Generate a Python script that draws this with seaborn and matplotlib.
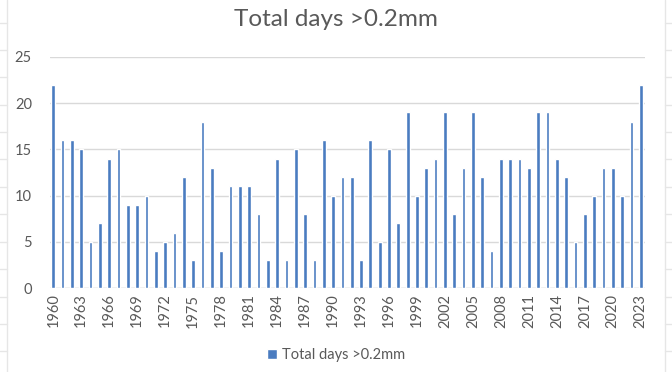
import numpy as np
import pandas as pd
import matplotlib
matplotlib.use('Agg')
import matplotlib.pyplot as plt
from matplotlib.lines import Line2D
import seaborn as sns

# Data
years = list(range(1960, 2024))
total_days = [22, 16, 16, 15, 5, 7, 14, 15, 9, 9,
              10, 4, 5, 6, 12, 3, 18, 13, 4, 11,
              11, 11, 8, 3, 14, 3, 15, 8, 3, 16,
              10, 12, 12, 3, 16, 5, 15, 7, 19, 10,
              13, 14, 19, 8, 13, 19, 12, 4, 14, 14,
              14, 13, 19, 19, 14, 12, 5, 8, 10, 13,
              13, 10, 18, 22]
series_name = 'Total days >0.2mm'

df = pd.DataFrame({'Year': [str(y) for y in years], 'Days': total_days})

sns.set_theme(style='white')
plt.rcParams['font.family'] = ['Lato', 'DejaVu Sans']

text_col = '#595959'
bar_col = '#4A7CC0'

fig = plt.figure(figsize=(6.72, 3.72), dpi=100)
ax = fig.add_axes([50/672, 1 - 288/372, (645 - 50)/672, (288 - 57)/372])

sns.barplot(data=df, x='Year', y='Days', color=bar_col, width=0.4,
            saturation=1, ax=ax, label=series_name)

ax.set_ylim(0, 25)
ax.set_yticks([0, 5, 10, 15, 20, 25])
ax.set_xlim(-0.35, len(years) - 0.55)
ax.yaxis.grid(True, color='#D9D9D9', linewidth=1)
ax.set_axisbelow(True)
for s in ax.spines.values():
    s.set_visible(False)
ax.axhline(0, color='#D9D9D9', linewidth=1, zorder=0)

tick_pos = list(range(0, len(years), 3))
ax.set_xticks(tick_pos)
ax.set_xticklabels([str(years[i]) for i in tick_pos], rotation=90)
ax.tick_params(axis='both', length=0, labelsize=10.5, colors=text_col, pad=4)
ax.tick_params(axis='y', pad=13)
ax.set_xlabel('')
ax.set_ylabel('')

fig.text(0.5, 1 - 20/372, 'Total days >0.2mm', ha='center', va='center',
         fontsize=17.5, color=text_col)

leg = ax.legend(loc='center', bbox_to_anchor=(0.5, (1 - 355/372)), bbox_transform=fig.transFigure,
                frameon=False, fontsize=10.5, handlelength=0.7, handleheight=0.7,
                handletextpad=0.3)
for t in leg.get_texts():
    t.set_color(text_col)

# spreadsheet cell borders behind the chart
for xe in [7/672, 665/672]:
    fig.add_artist(Line2D([xe, xe], [0, 1], color='#E6E6E6', linewidth=1))
for yy in np.arange(22.5, 372, 27.4):
    yf = 1 - yy/372
    fig.add_artist(Line2D([0, 7/672], [yf, yf], color='#E6E6E6', linewidth=1))
    fig.add_artist(Line2D([665/672, 1], [yf, yf], color='#E6E6E6', linewidth=1))

fig.savefig('out.png', dpi=100)
